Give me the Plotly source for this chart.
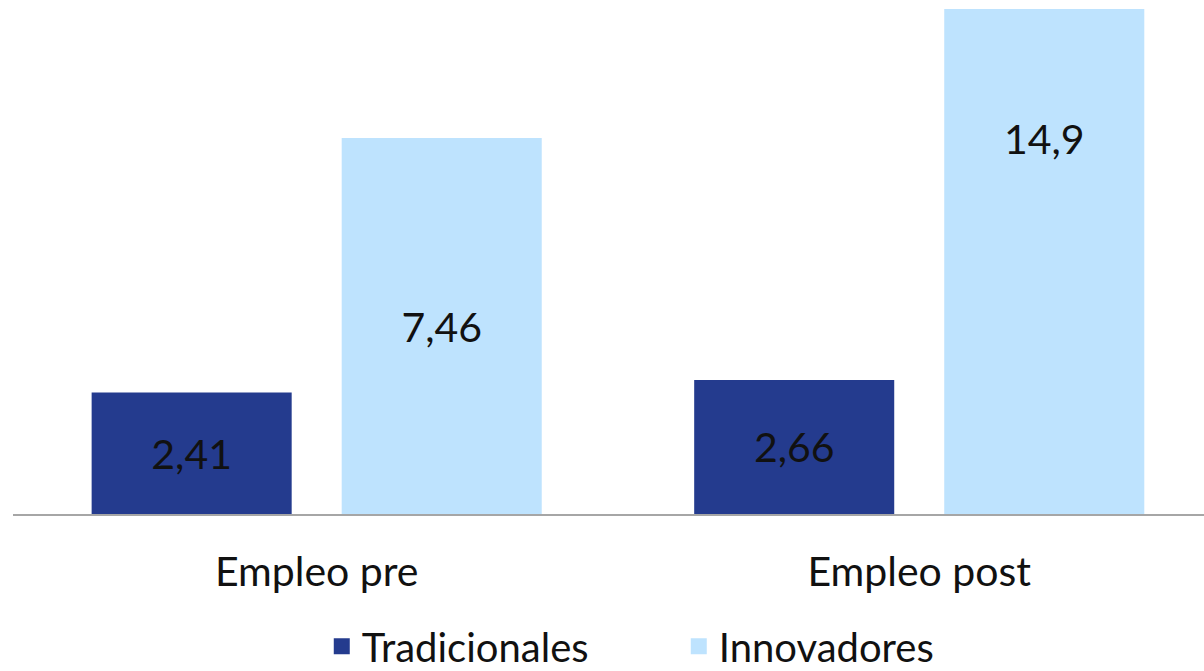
import plotly.graph_objects as go

categories = ["Empleo pre", "Empleo post"]
series_names = ["Tradicionales", "Innovadores"]
tradicionales = [2.41, 2.66]
innovadores = [7.46, 14.9]
label_trad = ["2,41", "2,66"]
label_innov = ["7,46", "14,9"]
colors = ["#243B8E", "#BEE3FE"]

FONT = "Lato"
TXT = "#111111"
fig = go.Figure()
for name, vals, labels, col in [(series_names[0], tradicionales, label_trad, colors[0]),
                                (series_names[1], innovadores, label_innov, colors[1])]:
    fig.add_trace(go.Bar(name=name, x=categories, y=vals, showlegend=False,
                         marker=dict(color=col, line=dict(width=0)),
                         text=labels, textposition="inside", insidetextanchor="middle",
                         textangle=0,
                         textfont=dict(family=FONT, size=41, color=TXT)))
# legend entries (square symbols like the reference)
for name, col in zip(series_names, colors):
    fig.add_trace(go.Scatter(name=name, x=[None], y=[None], mode="markers",
                             marker=dict(symbol="square", size=23, color=col),
                             showlegend=True))

fig.update_layout(
    width=1204, height=671,
    margin=dict(l=13, r=0, t=9, b=157, autoexpand=False),
    paper_bgcolor="white", plot_bgcolor="white",
    barmode="group", bargap=0.17, bargroupgap=0.2,
    font=dict(family=FONT, size=41, color=TXT),
    showlegend=True,
    legend=dict(orientation="h", x=0.559, xanchor="center", y=-0.262, yanchor="middle",
                font=dict(family=FONT, size=40, color=TXT),
                itemsizing="trace", traceorder="normal",
                entrywidth=312, entrywidthmode="pixels"),
    xaxis=dict(range=[-0.504, 1.4726], showline=True, linecolor="#A6A6A6", linewidth=2,
               showgrid=False, zeroline=False, ticks="", ticklabelstandoff=21,
               tickfont=dict(family=FONT, size=41, color=TXT)),
    yaxis=dict(range=[0, 10.02], visible=False, showgrid=False, zeroline=False),
)

fig.write_html("out.html", config={"displayModeBar": False},
               post_script="document.body.style.margin='0';document.body.style.padding='0';")
